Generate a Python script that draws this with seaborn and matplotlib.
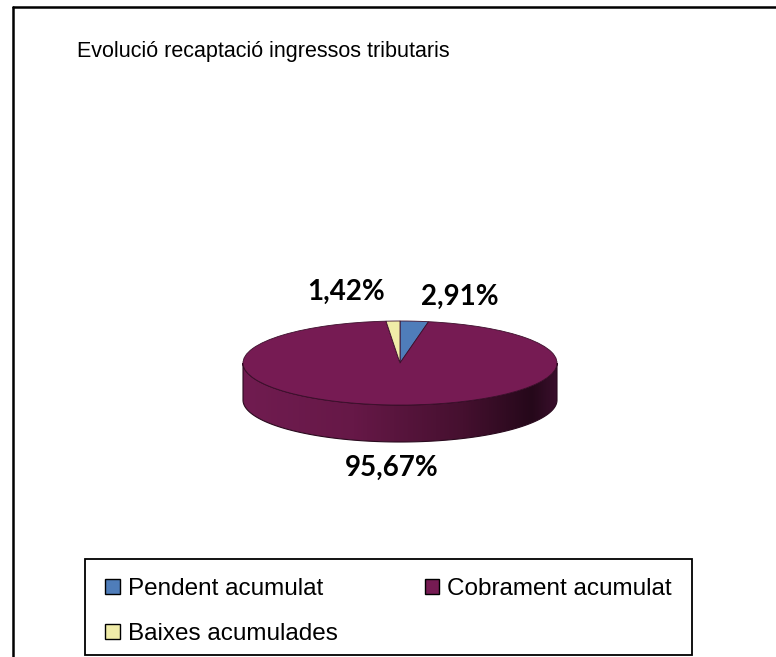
import numpy as np
import matplotlib
matplotlib.use("Agg")
import matplotlib.pyplot as plt
import seaborn as sns
from matplotlib import font_manager as fm
from matplotlib.patches import Polygon, Rectangle
from matplotlib.colors import LinearSegmentedColormap
from matplotlib.lines import Line2D

# ---- data ----
title = "Evolució recaptació ingressos tributaris"
categories = ["Pendent acumulat", "Cobrament acumulat", "Baixes acumulades"]
values = [2.91, 95.67, 1.42]
value_labels = ["2,91%", "95,67%", "1,42%"]
colors = ["#4f7dba", "#761b53", "#f0eca8"]

sns.set_theme(style="white")
plt.rcParams['font.family'] = ['Liberation Sans', 'DejaVu Sans']
plt.rcParams['text.color'] = 'black'

W, H = 776, 657
fig = plt.figure(figsize=(W / 100, H / 100), dpi=100)
fig.patch.set_facecolor('white')

# pie geometry (pixels)
cx, cy, rx, ry, depth = 400, 363, 157, 42, 37
d = depth / ry

ax = fig.add_axes([0, 0, 1, 1])
wedges, _ = ax.pie(values, colors=colors, startangle=90, counterclock=False,
                   radius=1, center=(0, 0), frame=False,
                   wedgeprops=dict(edgecolor='#3d0f2c', linewidth=0.6))
for w in wedges:
    w.set_zorder(3)

# side of the 3D pie (front half)
t = np.linspace(np.pi, 2 * np.pi, 300)
top = np.column_stack([np.cos(t), np.sin(t)])
bot = np.column_stack([np.cos(t[::-1]), np.sin(t[::-1]) - d])
side = Polygon(np.vstack([top, bot]), closed=True, facecolor='none',
               edgecolor='#2a0a1e', linewidth=0.8, zorder=2)
ax.add_patch(side)
cmap = LinearSegmentedColormap.from_list(
    "side", [(0, "#701c50"), (0.35, "#661847"), (0.7, "#45102f"),
             (0.92, "#25081a"), (1.0, "#3a0f2c")])
grad = np.linspace(0, 1, 400).reshape(1, -1)
im = ax.imshow(grad, extent=(-1, 1, -1 - d, 0), cmap=cmap, aspect='auto',
               zorder=1.5, interpolation='bilinear')
clip = Polygon(np.vstack([top, bot]), closed=True, transform=ax.transData)
im.set_clip_path(clip)

ax.set_aspect('auto')
ax.set_xlim(-cx / rx, (W - cx) / rx)
ax.set_ylim(-(H - cy) / ry, cy / ry)
ax.axis('off')

# value labels (pixel layout positions -> data coords)
label_pos = [(460, 305), (392, 476), (346, 300)]
for (px, py), txt in zip(label_pos, value_labels):
    ax.text((px - cx) / rx, (cy - py) / ry, txt, ha='center', va='baseline',
            fontsize=20, fontweight='bold', family=['Lato', 'DejaVu Sans'],
            color='black', zorder=5)

# title (use a narrow face if one is installed)
names = {f.name for f in fm.fontManager.ttflist}
if 'Liberation Sans Narrow' in names:
    tfam, tsize = ['Liberation Sans Narrow', 'DejaVu Sans'], 16
else:
    tfam, tsize = ['Liberation Sans', 'DejaVu Sans'], 15.5
fig.text(77 / W, 1 - 57 / H, title, ha='left', va='baseline', fontsize=tsize,
         family=tfam, color='black')

# outer chart frame (continues beyond image on right and bottom)
fig.add_artist(Line2D([13 / W, 1.0], [1 - 7 / H, 1 - 7 / H], color='black', lw=1.8))
fig.add_artist(Line2D([13 / W, 13 / W], [0, 1 - 7 / H], color='black', lw=1.8))

# legend frame
fig.add_artist(Rectangle((85 / W, 1 - 655 / H), 607 / W, 96 / H,
                         transform=fig.transFigure, facecolor='white',
                         edgecolor='black', linewidth=1.3, zorder=4))

# legend
handles = [Rectangle((0, 0), 1, 1, facecolor=c, edgecolor='black', linewidth=1.0)
           for c in colors]
order = [0, 2, 1]
leg = fig.legend([handles[i] for i in order], [categories[i] for i in order],
                 loc='upper left', bbox_to_anchor=(85 / W, 1 - 558 / H, 607 / W, 0),
                 mode='expand', ncol=2, frameon=False, labelcolor='black',
                 fontsize=17.5, handlelength=0.6,
                 handleheight=0.6, handletextpad=0.33, borderpad=0.82,
                 labelspacing=0.95, borderaxespad=0)
leg.set_zorder(5)

fig.savefig("out.png", dpi=100, facecolor='white')
